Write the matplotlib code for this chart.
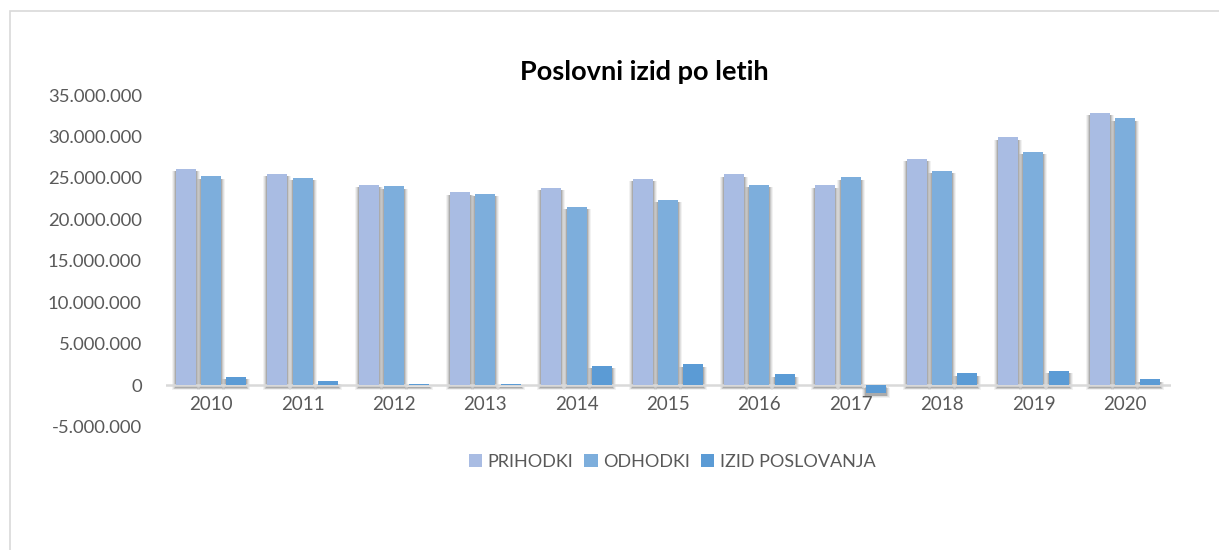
import matplotlib
matplotlib.use("Agg")
import matplotlib.pyplot as plt
from matplotlib.patches import Rectangle, Patch
from matplotlib.ticker import FuncFormatter
import numpy as np

plt.rcParams['font.family'] = ['Lato', 'DejaVu Sans']

years = ['2010', '2011', '2012', '2013', '2014', '2015', '2016', '2017', '2018', '2019', '2020']
prihodki = [26.1e6, 25.5e6, 24.2e6, 23.3e6, 23.8e6, 24.9e6, 25.45e6, 24.1e6, 27.3e6, 29.95e6, 32.9e6]
odhodki = [25.2e6, 25.05e6, 24.0e6, 23.1e6, 21.5e6, 22.4e6, 24.2e6, 25.1e6, 25.9e6, 28.2e6, 32.2e6]
izid = [0.97e6, 0.45e6, 0.08e6, 0.08e6, 2.3e6, 2.5e6, 1.3e6, -0.93e6, 1.4e6, 1.7e6, 0.7e6]
series_names = ['PRIHODKI', 'ODHODKI', 'IZID POSLOVANJA']
colors = ['#A9BCE3', '#7DAEDC', '#5B9BD5']

W, H = 1219, 550
fig = plt.figure(figsize=(W / 100, H / 100), dpi=100)

ax_l, ax_r = 165.5, 1170.5
ax_t, ax_b = 95.2, 426.4
ax = fig.add_axes([ax_l / W, 1 - ax_b / H, (ax_r - ax_l) / W, (ax_b - ax_t) / H])

ymin, ymax = -5e6, 35e6
ax.set_xlim(-0.5, len(years) - 0.5)
ax.set_ylim(ymin, ymax)

px_x = len(years) / (ax_r - ax_l)
px_y = (ymax - ymin) / (ax_b - ax_t)

x = np.arange(len(years))
bw = 0.219
off = 0.277
data = [prihodki, odhodki, izid]

# soft shadows behind the bars
for k, vals in enumerate(data):
    xs = x + (k - 1) * off
    for xi, v in zip(xs, vals):
        lo, hi = min(0, v), max(0, v)
        for pad, a in [(4.0, 0.05), (3.0, 0.07), (2.0, 0.10), (1.0, 0.15)]:
            dx = pad * px_x
            dy = 2.5 * px_y
            ax.add_patch(Rectangle((xi - bw / 2 - dx, lo - dy - pad * px_y * 0.6),
                                   bw + 2 * dx, (hi - lo) + pad * px_y * 0.6,
                                   facecolor='black', alpha=a, lw=0, zorder=1))

for k, vals in enumerate(data):
    ax.bar(x + (k - 1) * off, vals, width=bw, color=colors[k], zorder=3,
           label=series_names[k])

ax.axhline(0, color='#D9D9D9', lw=1.8, zorder=2)

for s in ax.spines.values():
    s.set_visible(False)

ax.set_yticks(np.arange(-5e6, 35e6 + 1, 5e6))
ax.yaxis.set_major_formatter(FuncFormatter(lambda v, p: f"{int(v):,}".replace(',', '.')))
ax.tick_params(axis='y', length=0, pad=17, labelsize=13.3, labelcolor='#595959')
ax.set_xticks([])
for i, yr in enumerate(years):
    ax.annotate(yr, xy=(i, 0), xytext=(0, -14.4), textcoords='offset points',
                ha='center', va='center', fontsize=13.5, color='#595959')

fig.text(644 / W, 1 - 72 / H, 'Poslovni izid po letih', ha='center', va='center',
         fontsize=19.5, fontweight='bold', color='black')

handles = [Patch(facecolor=c, edgecolor='none') for c in colors]
fig.legend(handles, series_names, loc='center', bbox_to_anchor=(672 / W, 1 - 462 / H),
           ncol=3, frameon=False, fontsize=13, labelcolor='#595959',
           handlelength=0.75, handleheight=0.75, handletextpad=0.3, columnspacing=0.6)

fig.add_artist(Rectangle((10 / W, -0.1), 1.2, 1 - 11 / H + 0.1, transform=fig.transFigure,
                         facecolor='none', edgecolor='#D9D9D9', lw=1.2))

fig.savefig('out.png', dpi=100)
